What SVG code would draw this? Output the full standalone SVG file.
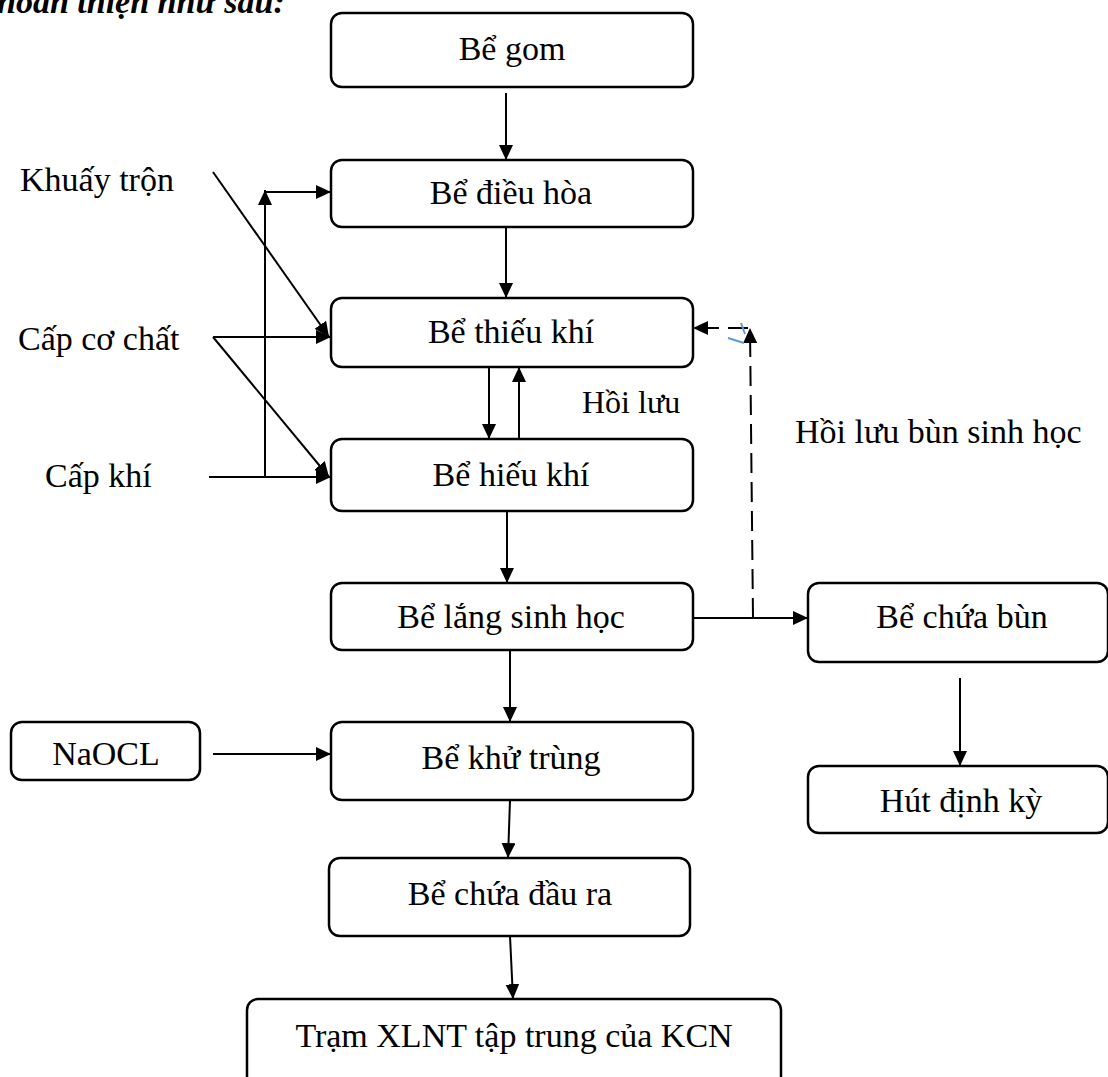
<svg xmlns="http://www.w3.org/2000/svg" width="1108" height="1077" viewBox="0 0 1108 1077">
<defs>
<marker id="ah" viewBox="0 0 15 14" refX="15" refY="7" markerWidth="15" markerHeight="14" markerUnits="userSpaceOnUse" orient="auto"><path d="M0,0 L15,7 L0,14 z" fill="#000"/></marker>
</defs>
<style>
.box{fill:#fff;stroke:#000;stroke-width:2.5}
.t{font-family:"Liberation Serif","Times New Roman",serif;font-size:34px;fill:#000}
.s{font-size:32px}
.c{text-anchor:middle}
.ln{stroke:#000;stroke-width:2;fill:none}
.arr{marker-end:url(#ah)}
.dash{stroke-dasharray:20 9}
.blue{stroke:#5B9BD5;stroke-width:2;fill:none}
</style>
<rect width="1108" height="1077" fill="#fff"/>
<text x="-3" y="13" style="font-family:'Liberation Serif','Times New Roman',serif;font-size:34px;font-weight:bold;font-style:italic">hoàn thiện như sau:</text>

<g id="connectors">
<line class="ln arr" x1="506" y1="93" x2="506" y2="160"/>
<line class="ln arr" x1="506" y1="228" x2="506" y2="298"/>
<line class="ln arr" x1="489" y1="367" x2="489" y2="439"/>
<line class="ln arr" x1="519" y1="439" x2="519" y2="367"/>
<line class="ln arr" x1="507" y1="511" x2="507" y2="583"/>
<line class="ln arr" x1="510" y1="650" x2="510" y2="722"/>
<line class="ln arr" x1="510" y1="800" x2="508" y2="858"/>
<line class="ln arr" x1="510" y1="936" x2="513" y2="999"/>
<line class="ln arr" x1="213" y1="754" x2="331" y2="754"/>
<line class="ln arr" x1="693" y1="618" x2="808" y2="618"/>
<line class="ln arr" x1="960" y1="678" x2="960" y2="766"/>
<line class="ln dash arr" x1="753" y1="618" x2="750" y2="328"/>
<line class="ln dash arr" x1="748" y1="328" x2="693" y2="328"/>
<path class="blue" d="M741,323 L745,334 M728,338 L744,343"/>
<line class="ln arr" x1="213" y1="172" x2="329" y2="337"/>
<line class="ln arr" x1="213" y1="337" x2="331" y2="337"/>
<line class="ln arr" x1="213" y1="337" x2="329" y2="477"/>
<line class="ln arr" x1="209" y1="477" x2="331" y2="477"/>
<line class="ln arr" x1="265" y1="478" x2="265" y2="190"/>
<line class="ln arr" x1="264" y1="192" x2="331" y2="192"/>
</g>

<g id="n-begom"><rect class="box" x="331" y="13" width="362" height="74" rx="11"/><text class="t c" x="512" y="60">Bể gom</text></g>
<g id="n-dieuhoa"><rect class="box" x="331" y="160" width="362" height="67" rx="11"/><text class="t c" x="511" y="204">Bể điều hòa</text></g>
<g id="n-thieukhi"><rect class="box" x="331" y="298" width="362" height="69" rx="11"/><text class="t c" x="511" y="343">Bể thiếu khí</text></g>
<g id="n-hieukhi"><rect class="box" x="331" y="439" width="362" height="72" rx="11"/><text class="t c" x="511" y="486">Bể hiếu khí</text></g>
<g id="n-lang"><rect class="box" x="331" y="583" width="362" height="67" rx="11"/><text class="t c" x="511" y="628">Bể lắng sinh học</text></g>
<g id="n-khutrung"><rect class="box" x="331" y="722" width="362" height="78" rx="11"/><text class="t c" x="511" y="769">Bể khử trùng</text></g>
<g id="n-daura"><rect class="box" x="329" y="858" width="361" height="78" rx="11"/><text class="t c" x="510" y="905">Bể chứa đầu ra</text></g>
<g id="n-tram"><rect class="box" x="247" y="999" width="534" height="90" rx="11"/><text class="t c" x="514" y="1047">Trạm XLNT tập trung của KCN</text></g>
<g id="n-naocl"><rect class="box" x="11" y="722" width="189" height="58" rx="11"/><text class="t c" x="106" y="765">NaOCL</text></g>
<g id="n-chuabun"><rect class="box" x="808" y="583" width="300" height="79" rx="11"/><text class="t c" x="962" y="628">Bể chứa bùn</text></g>
<g id="n-hut"><rect class="box" x="808" y="766" width="300" height="67" rx="11"/><text class="t c" x="961" y="812">Hút định kỳ</text></g>
<g id="labels">
<text class="t" x="20" y="191">Khuấy trộn</text>
<text class="t" x="18" y="350">Cấp cơ chất</text>
<text class="t" x="45" y="487">Cấp khí</text>
<text class="t s" x="582" y="413">Hồi lưu</text>
<text class="t" x="795" y="443">Hồi lưu bùn sinh học</text>
</g>
</svg>
